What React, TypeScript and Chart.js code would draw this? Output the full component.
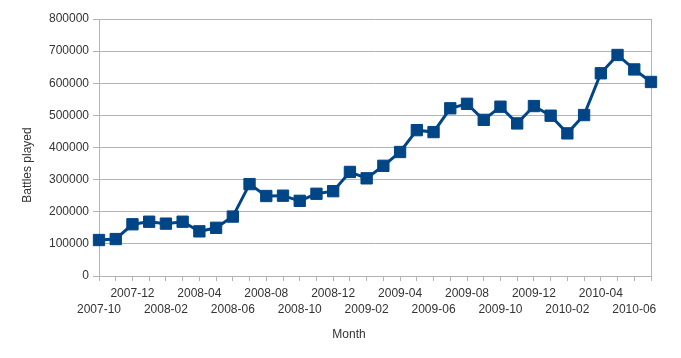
import React, { useEffect, useRef } from "react";
import { Chart, registerables } from "chart.js";

Chart.register(...registerables);

const months: string[] = [
  "2007-10", "2007-11", "2007-12", "2008-01", "2008-02", "2008-03", "2008-04", "2008-05",
  "2008-06", "2008-07", "2008-08", "2008-09", "2008-10", "2008-11", "2008-12", "2009-01",
  "2009-02", "2009-03", "2009-04", "2009-05", "2009-06", "2009-07", "2009-08", "2009-09",
  "2009-10", "2009-11", "2009-12", "2010-01", "2010-02", "2010-03", "2010-04", "2010-05",
  "2010-06", "2010-07",
];

const battlesPlayed: number[] = [
  112000, 115000, 161000, 169000, 163000, 169000, 139000, 150000,
  185000, 286000, 249000, 250000, 234000, 256000, 264000, 324000,
  304000, 343000, 386000, 454000, 448000, 522000, 536000, 486000,
  527000, 475000, 529000, 499000, 444000, 501000, 631000, 688000,
  643000, 604000,
];

const yTitle = "Battles played";
const xTitle = "Month";

const GRID = "#b3b3b3";
const TEXT = "#333333";
const BLUE = "#004586";
const FONT = "'Liberation Sans', Arial, sans-serif";

const titlesPlugin = {
  id: "axisTitles",
  afterDraw(chart: any) {
    const ctx = chart.ctx as CanvasRenderingContext2D;
    ctx.save();
    ctx.fillStyle = TEXT;
    ctx.font = `12px ${FONT}`;
    ctx.textAlign = "center";
    ctx.textBaseline = "middle";
    ctx.fillText(xTitle, 349, 335);
    ctx.translate(28, 165);
    ctx.rotate(-Math.PI / 2);
    ctx.fillText(yTitle, 0, 0);
    ctx.restore();
  },
};

export default function App() {
  const ref = useRef<HTMLCanvasElement | null>(null);

  useEffect(() => {
    if (!ref.current) return;
    const last = months.length - 1;
    const chart = new Chart(ref.current, {
      type: "line",
      data: {
        labels: months,
        datasets: [
          {
            data: battlesPlayed,
            borderColor: BLUE,
            backgroundColor: BLUE,
            borderWidth: 3,
            pointStyle: "rect",
            pointRadius: 8,
            pointBorderWidth: 1,
            pointBackgroundColor: BLUE,
            pointBorderColor: BLUE,
            tension: 0,
          },
        ],
      },
      options: {
        animation: false,
        responsive: false,
        devicePixelRatio: 1,
        layout: { padding: { top: 19, right: 30, left: 0, bottom: 0 } },
        plugins: { legend: { display: false }, tooltip: { enabled: false } },
        scales: {
          x: {
            offset: false,
            grid: {
              drawOnChartArea: true,
              color: (ctx: any) => (ctx.index === last ? GRID : "rgba(0,0,0,0)"),
              tickColor: GRID,
              tickLength: 5,
              lineWidth: 1,
            },
            border: { display: true, color: GRID },
            ticks: {
              autoSkip: false,
              maxRotation: 0,
              minRotation: 0,
              padding: 5,
              color: TEXT,
              font: { family: FONT, size: 12, lineHeight: 1.3 },
              callback: (_v: any, i: number) => {
                if (i % 2 === 1) return "";
                return i % 4 === 0 ? ["", months[i]] : [months[i], ""];
              },
            },
            title: { display: false },
            afterFit: (scale: any) => {
              scale.height = 82;
            },
          },
          y: {
            min: 0,
            max: 800000,
            grid: { color: GRID, tickColor: GRID, tickLength: 6, lineWidth: 1 },
            border: { display: true, color: GRID },
            ticks: {
              stepSize: 100000,
              padding: 4,
              color: TEXT,
              font: { family: FONT, size: 12 },
              callback: (v: any) => String(v),
            },
            title: { display: false },
            afterFit: (scale: any) => {
              scale.width = 99;
            },
          },
        },
      },
      plugins: [titlesPlugin],
    });
    return () => chart.destroy();
  }, []);

  return (
    <div style={{ position: "absolute", left: 0, top: 0, width: 681, height: 358, background: "#fff" }}>
      <canvas ref={ref} width={681} height={358} style={{ width: 681, height: 358, display: "block" }} />
    </div>
  );
}
